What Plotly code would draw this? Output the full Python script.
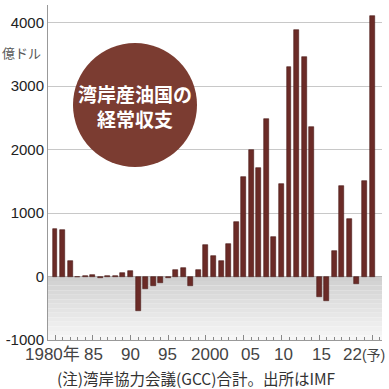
import plotly.graph_objects as go

years = list(range(1980, 2023))
balance = [755, 730, 250, -10, 15, 25, -30, 5, 5, 60,
           80, -545, -190, -150, -95, -25, 100, 130, -150, 100,
           500, 330, 250, 515, 860, 1575, 1995, 1715, 2480, 625,
           1455, 3310, 3890, 3460, 2360, -330, -380, 410, 1420, 910,
           -110, 1500, 4110]

x_label_years = [1980, 1985, 1990, 1995, 2000, 2005, 2010, 2015, 2022]
x_label_text = ["1980年", "85", "90", "95", "2000", "05", "10", "15",
                "22<span style='font-size:14px'>(予)</span>"]
x_label_shift = [-3, 1, 0, -1, 4, 7, 2, 2, -8]

y_ticks = [-1000, 0, 1000, 2000, 3000, 4000]
y_text = ["-1000", "0", "1000", "2000", "3000", "4000"]

title_text = "湾岸産油国の<br>経常収支"
unit_text = "億ドル"
note_text = "(注)湾岸協力会議(GCC)合計。出所はIMF"

LAT = "Liberation Sans, Arial, sans-serif"
CJK = "Noto Sans CJK JP, sans-serif"

fig = go.Figure()
fig.add_trace(go.Bar(
    x=years, y=balance, width=0.66,
    marker=dict(color="#6b2b27", line=dict(color="#4a1a17", width=0.6)),
    hoverinfo="x+y",
))

shapes = []
n = 14
c_top, c_bot = 208, 246
for i in range(n):
    y1 = 0 - i * 1000 / n
    y0 = 0 - (i + 1) * 1000 / n
    c = int(round(c_top + (c_bot - c_top) * i / (n - 1)))
    shapes.append(dict(type="rect", xref="paper", yref="y", x0=0, x1=1, y0=y0, y1=y1,
                       fillcolor=f"rgb({c},{c},{c})", line=dict(width=0), layer="below"))
shapes.append(dict(type="circle", xref="paper", yref="paper",
                   xsizemode="pixel", ysizemode="pixel",
                   xanchor=(135 - 48) / 334, yanchor=(340 - 105) / 335,
                   x0=-62, x1=62, y0=-62, y1=62,
                   fillcolor="#7b3c31", line=dict(width=0), layer="above"))

annotations = []
for yr, txt, sh in zip(x_label_years, x_label_text, x_label_shift):
    annotations.append(dict(x=yr, y=0, xref="x", yref="paper", text=txt, showarrow=False,
                            xanchor="center", yanchor="top", xshift=sh, yshift=-3,
                            font=dict(family=LAT + ", " + CJK, size=17, color="#444444")))
annotations.append(dict(x=(135 - 48) / 334, y=(340 - 106) / 335, xref="paper", yref="paper",
                        text="<b>" + title_text + "</b>", showarrow=False,
                        xanchor="center", yanchor="middle",
                        font=dict(family=CJK, size=19, color="white")))
annotations.append(dict(x=-5 / 334, y=(340 - 52) / 335, xref="paper", yref="paper",
                        text=unit_text, showarrow=False, xanchor="right", yanchor="middle",
                        font=dict(family=CJK, size=13, color="#555555")))
annotations.append(dict(x=(196 - 48) / 334, y=0, xref="paper", yref="paper",
                        text=note_text, showarrow=False, xanchor="center", yanchor="middle",
                        yshift=-38, font=dict(family=CJK, size=15.5, color="#333333")))

fig.update_layout(
    width=389, height=389,
    margin=dict(l=48, r=7, t=5, b=49, autoexpand=False),
    paper_bgcolor="white", plot_bgcolor="white",
    showlegend=False, bargap=0,
    shapes=shapes, annotations=annotations,
    xaxis=dict(range=[1979.073, 2023.32], showgrid=False, zeroline=False, automargin=False,
               showline=True, linecolor="#999999", linewidth=1,
               tickvals=x_label_years, ticks="inside", ticklen=5, tickcolor="#888888",
               showticklabels=False,
               minor=dict(dtick=1, tick0=1980, ticks="inside", ticklen=3, tickcolor="#888888")),
    yaxis=dict(range=[-1000, 4280], tickvals=y_ticks, ticktext=y_text, automargin=False,
               showgrid=True, gridcolor="#c8c8c8", gridwidth=1,
               zeroline=True, zerolinecolor="#b5b5b5", zerolinewidth=1,
               showline=True, linecolor="#999999", linewidth=1,
               ticks="", tickfont=dict(family=LAT, size=15, color="#222222")),
)

fig.write_html("out.html", config={"displayModeBar": False},
               post_script="document.body.style.margin='0';document.body.style.overflow='hidden';")
